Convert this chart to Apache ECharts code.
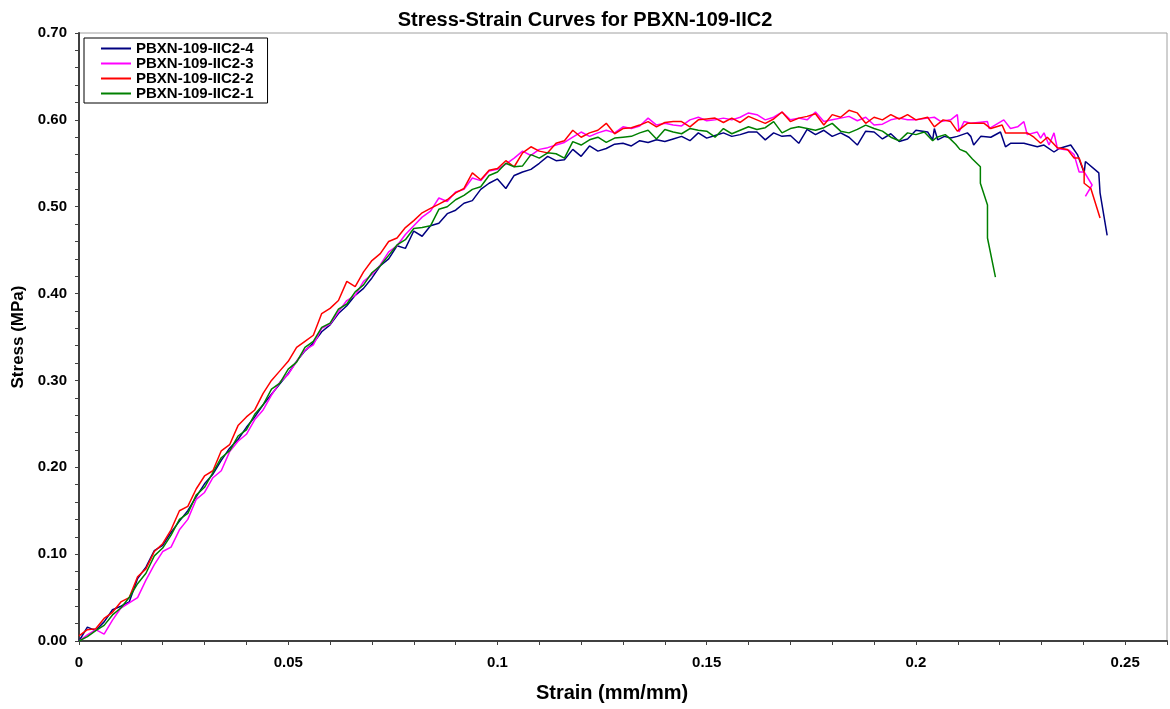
<!DOCTYPE html>
<html><head><meta charset="utf-8">
<script src="https://cdn.jsdelivr.net/npm/echarts@6/dist/echarts.min.js"></script>
<style>html,body{margin:0;padding:0;background:#fff}#c{width:1170px;height:709px}</style>
</head><body><div id="c"></div>
<script>
const titleText = 'Stress-Strain Curves for PBXN-109-IIC2';
const seriesNames = ['PBXN-109-IIC2-4','PBXN-109-IIC2-3','PBXN-109-IIC2-2','PBXN-109-IIC2-1'];
const xTickLabels = ['0','0.05','0.1','0.15','0.2','0.25'];
const yTickLabels = ['0.00','0.10','0.20','0.30','0.40','0.50','0.60','0.70'];

const strainGrid = [0.000,0.002,0.004,0.006,0.008,0.010,0.012,0.014,0.016,0.018,
0.020,0.022,0.024,0.026,0.028,0.030,0.032,0.034,0.036,0.038,
0.040,0.042,0.044,0.046,0.048,0.050,0.052,0.054,0.056,0.058,
0.060,0.062,0.064,0.066,0.068,0.070,0.072,0.074,0.076,0.078,
0.080,0.082,0.084,0.086,0.088,0.090,0.092,0.094,0.096,0.098,
0.100,0.102,0.104,0.106,0.108,0.110,0.112,0.114,0.116,0.118,
0.120,0.122,0.124,0.126,0.128,0.130,0.132,0.134,0.136,0.138,
0.140,0.142,0.144,0.146,0.148,0.150,0.152,0.154,0.156,0.158,
0.160,0.162,0.164,0.166,0.168,0.170,0.172,0.174,0.176,0.178,
0.180,0.182,0.184,0.186,0.188,0.190,0.192,0.194,0.196,0.198,0.200];

// stress (MPa) at each strainGrid point
const stress4 = [0.000,0.016,0.012,0.022,0.036,0.040,0.045,0.072,0.085,0.104,
0.110,0.125,0.138,0.150,0.166,0.181,0.192,0.208,0.222,0.232,
0.246,0.258,0.272,0.284,0.296,0.308,0.322,0.334,0.343,0.356,
0.364,0.377,0.386,0.398,0.406,0.418,0.432,0.440,0.455,0.452,
0.472,0.466,0.478,0.481,0.492,0.496,0.504,0.507,0.520,0.527,
0.532,0.521,0.536,0.540,0.543,0.550,0.558,0.553,0.554,0.566,
0.558,0.570,0.564,0.567,0.572,0.573,0.570,0.576,0.574,0.577,
0.575,0.578,0.581,0.576,0.585,0.579,0.582,0.585,0.581,0.583,
0.586,0.586,0.577,0.585,0.581,0.582,0.573,0.589,0.583,0.588,
0.581,0.585,0.580,0.571,0.587,0.586,0.578,0.584,0.575,0.578,0.588];
const stress3 = [0.000,0.007,0.013,0.008,0.024,0.038,0.044,0.050,0.070,0.088,
0.103,0.108,0.128,0.140,0.163,0.171,0.188,0.196,0.218,0.230,
0.238,0.255,0.266,0.283,0.298,0.307,0.322,0.335,0.341,0.360,
0.365,0.379,0.392,0.398,0.414,0.422,0.433,0.448,0.455,0.468,
0.478,0.488,0.495,0.510,0.506,0.517,0.520,0.533,0.530,0.541,
0.543,0.549,0.556,0.564,0.559,0.566,0.568,0.571,0.574,0.580,
0.586,0.581,0.585,0.588,0.585,0.592,0.590,0.593,0.602,0.594,
0.596,0.594,0.593,0.600,0.603,0.599,0.600,0.602,0.600,0.603,
0.608,0.606,0.600,0.603,0.609,0.600,0.602,0.600,0.609,0.598,
0.600,0.602,0.604,0.599,0.603,0.594,0.595,0.600,0.602,0.600,0.600];
const stress2 = [0.006,0.013,0.014,0.026,0.033,0.045,0.050,0.074,0.083,0.103,
0.112,0.128,0.150,0.155,0.175,0.190,0.196,0.219,0.226,0.248,
0.258,0.266,0.285,0.300,0.311,0.322,0.338,0.345,0.352,0.377,
0.383,0.392,0.414,0.408,0.425,0.438,0.446,0.460,0.464,0.476,
0.484,0.493,0.498,0.503,0.508,0.516,0.521,0.539,0.531,0.542,
0.544,0.553,0.546,0.562,0.569,0.564,0.562,0.573,0.576,0.588,
0.580,0.585,0.588,0.596,0.584,0.590,0.591,0.594,0.598,0.592,
0.597,0.598,0.598,0.592,0.600,0.601,0.602,0.597,0.602,0.597,
0.604,0.600,0.596,0.601,0.609,0.598,0.602,0.604,0.607,0.594,
0.606,0.603,0.611,0.608,0.596,0.603,0.600,0.606,0.601,0.606,0.600];
const stress1 = [0.000,0.005,0.012,0.018,0.030,0.038,0.050,0.066,0.078,0.098,
0.107,0.122,0.140,0.147,0.168,0.177,0.194,0.211,0.219,0.236,
0.243,0.261,0.272,0.290,0.297,0.313,0.321,0.338,0.345,0.361,
0.366,0.382,0.388,0.402,0.410,0.424,0.432,0.444,0.456,0.462,
0.475,0.476,0.478,0.497,0.500,0.508,0.513,0.520,0.523,0.536,
0.540,0.550,0.546,0.547,0.560,0.556,0.562,0.561,0.556,0.575,
0.571,0.577,0.580,0.574,0.579,0.580,0.581,0.585,0.588,0.578,
0.589,0.586,0.584,0.590,0.588,0.587,0.580,0.590,0.584,0.588,
0.592,0.589,0.591,0.598,0.585,0.590,0.592,0.590,0.588,0.591,
0.596,0.587,0.585,0.589,0.594,0.590,0.587,0.580,0.576,0.585,0.583];

// failure tails [strain, stress] beyond 0.200
const tail4 = [[0.2028,0.586],[0.2040,0.577],[0.2044,0.590],[0.2052,0.577],[0.2068,0.581],[0.2083,0.579],[0.2099,0.581],[0.2123,0.585],[0.2131,0.581],[0.2138,0.571],[0.2155,0.581],[0.2179,0.580],[0.2202,0.586],[0.2214,0.569],[0.2226,0.573],[0.2258,0.573],[0.2290,0.569],[0.2306,0.571],[0.2330,0.563],[0.2342,0.567],[0.2370,0.571],[0.2386,0.560],[0.2402,0.539],[0.2405,0.552],[0.2437,0.539],[0.2440,0.516],[0.2457,0.467]];
const tail3 = [[0.2028,0.602],[0.2044,0.603],[0.2060,0.598],[0.2083,0.600],[0.2099,0.606],[0.2103,0.586],[0.2115,0.598],[0.2131,0.596],[0.2171,0.598],[0.2175,0.590],[0.2210,0.600],[0.2226,0.590],[0.2243,0.592],[0.2258,0.598],[0.2266,0.583],[0.2290,0.586],[0.2298,0.579],[0.2306,0.585],[0.2318,0.571],[0.2330,0.585],[0.2338,0.567],[0.2366,0.565],[0.2378,0.560],[0.2390,0.540],[0.2402,0.540],[0.2421,0.525],[0.2405,0.512]];
const tail2 = [[0.2028,0.603],[0.2044,0.592],[0.2065,0.600],[0.2083,0.598],[0.2099,0.587],[0.2123,0.596],[0.2163,0.596],[0.2179,0.590],[0.2206,0.594],[0.2214,0.585],[0.2243,0.585],[0.2266,0.585],[0.2282,0.580],[0.2298,0.573],[0.2314,0.580],[0.2338,0.568],[0.2362,0.566],[0.2378,0.556],[0.2390,0.556],[0.2402,0.540],[0.2402,0.527],[0.2418,0.521],[0.2440,0.487]];
const tail1 = [[0.2020,0.586],[0.2040,0.576],[0.2050,0.580],[0.2070,0.583],[0.2080,0.579],[0.2095,0.572],[0.2105,0.566],[0.2120,0.563],[0.2135,0.555],[0.2154,0.546],[0.2154,0.527],[0.2171,0.502],[0.2171,0.464],[0.2190,0.419]];

const colors = ['#000080','#FF00FF','#FF0000','#008000'];
const stresses = [stress4, stress3, stress2, stress1];
const tails = [tail4, tail3, tail2, tail1];

function build(s, tail){ return strainGrid.map((x,i)=>[x, s[i]]).concat(tail); }

const FONT = '"Liberation Sans", Arial, sans-serif';
const chart = echarts.init(document.getElementById('c'), null, {renderer:'canvas'});
chart.setOption({
  animation:false,
  backgroundColor:'#fff',
  title:{text:titleText,left:'center',top:5,textStyle:{fontFamily:FONT,fontWeight:'bold',fontSize:20,color:'#000'}},
  legend:{
    orient:'vertical',left:84,top:38,
    backgroundColor:'#fff',borderColor:'#000',borderWidth:1,borderRadius:0,
    padding:[3,14,2,16],itemGap:0,itemWidth:30,itemHeight:15,
    itemStyle:{opacity:0},
    textStyle:{fontFamily:FONT,fontWeight:'bold',fontSize:15,color:'#000',lineHeight:15},
    data:seriesNames
  },
  grid:{left:79,right:1,top:33,bottom:68,show:true,borderColor:'#a0a0a0',borderWidth:1,backgroundColor:'transparent'},
  xAxis:{
    type:'value',min:0,max:0.26,interval:0.01,
    name:'Strain (mm/mm)',nameLocation:'middle',nameGap:42,
    nameTextStyle:{fontFamily:FONT,fontWeight:'bold',fontSize:20,color:'#000',padding:[0,22,0,0]},
    axisLine:{show:true,onZero:false,lineStyle:{color:'#404040',width:2}},
    axisTick:{show:true,length:4,lineStyle:{color:'#404040',width:1}},
    axisLabel:{margin:14,fontFamily:FONT,fontWeight:'bold',fontSize:15,color:'#000',
      formatter:v=>{const k=Math.round(v*100);return k%5===0?(xTickLabels[k/5]||''):'';}},
    splitLine:{show:false}
  },
  yAxis:{
    type:'value',min:0,max:0.7,interval:0.02,
    name:'Stress (MPa)',nameLocation:'middle',nameGap:52,nameRotate:90,
    nameTextStyle:{fontFamily:FONT,fontWeight:'bold',fontSize:17,color:'#000'},
    axisLine:{show:true,onZero:false,lineStyle:{color:'#404040',width:2}},
    axisTick:{show:true,length:4,lineStyle:{color:'#404040',width:1}},
    axisLabel:{margin:12,fontFamily:FONT,fontWeight:'bold',fontSize:15,color:'#000',
      formatter:v=>{const k=Math.round(v*100);return k%10===0?(yTickLabels[k/10]||''):'';}},
    splitLine:{show:false}
  },
  series:seriesNames.map((n,i)=>({
    name:n,type:'line',symbol:'none',showSymbol:false,
    data:build(stresses[i],tails[i]),
    lineStyle:{color:colors[i],width:1.5},itemStyle:{color:colors[i]},
    z:2+i
  }))
});
</script></body></html>
